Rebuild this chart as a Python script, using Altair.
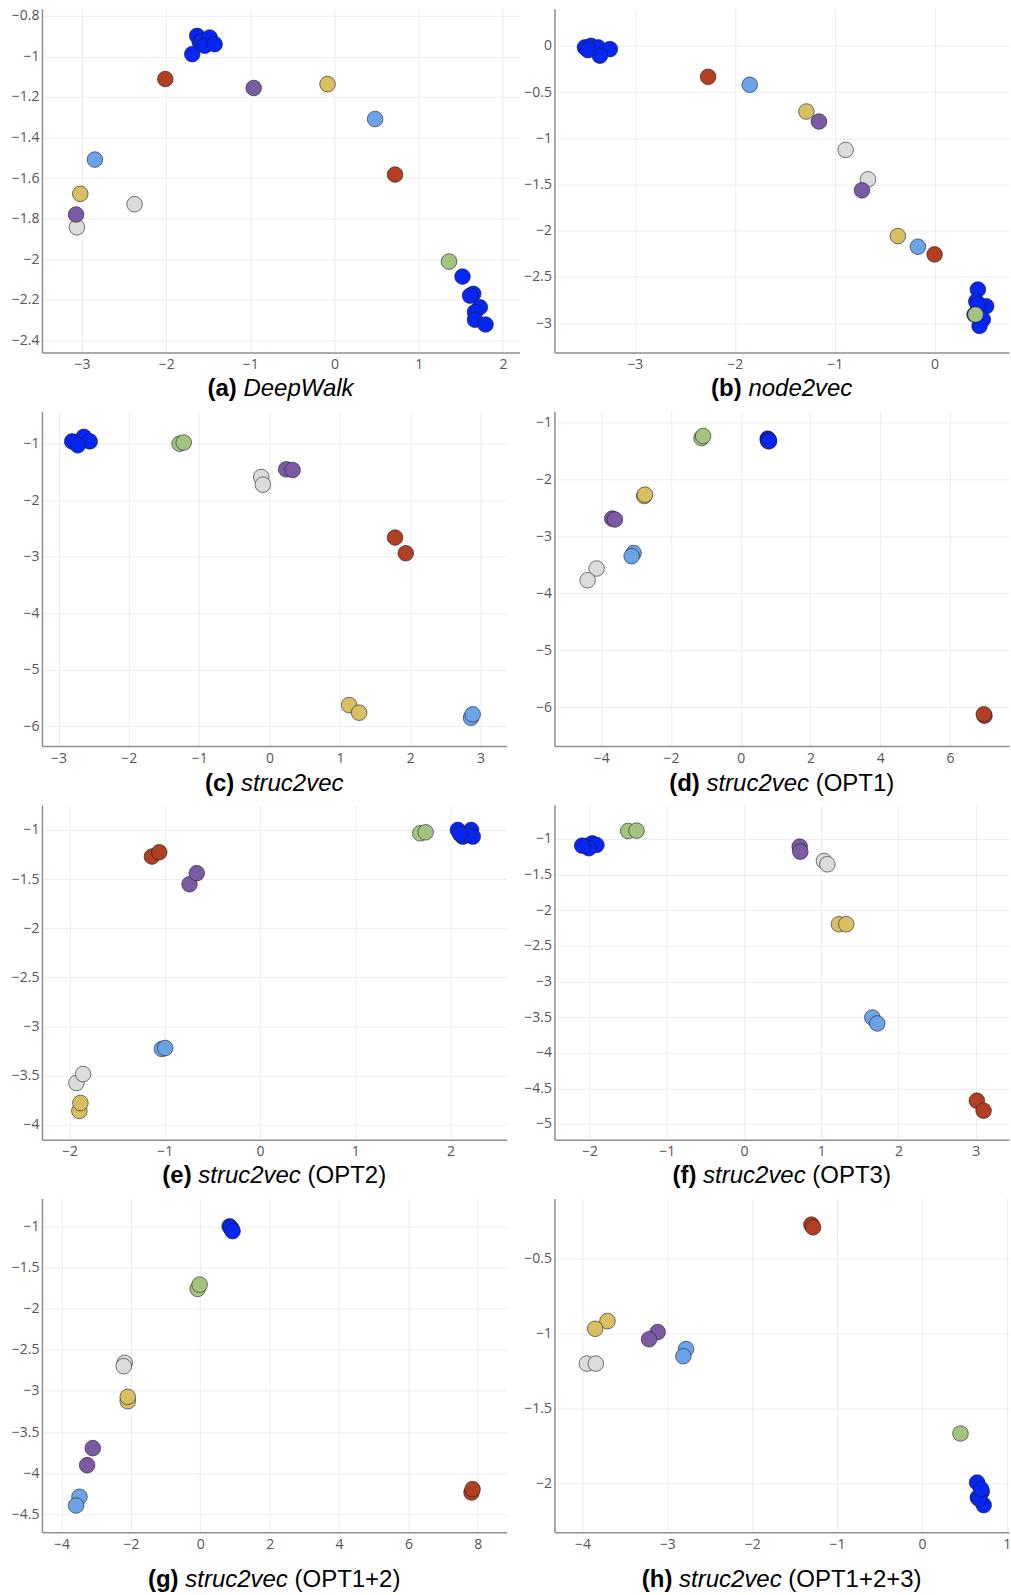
import altair as alt
import pandas as pd

# node roles and their colours
ROLES = ["r1", "r2", "r3", "r4", "r5", "r6", "r7"]
ROLE_COLORS = ["#0626f5", "#a2c47e", "#dadbdd", "#d8bf62", "#7a5ba3", "#6ca2e8", "#b33f22"]

# ---- (a) DeepWalk ----
DEEPWALK_X = [-1.69, -1.632, -1.60, -1.573, -1.483, -1.542, -1.423,
              1.52, 1.648, 1.61, 1.727, 1.668, 1.668, 1.794,
              1.36, -2.375, -3.06, -0.083, -3.02, -0.96, -3.07,
              0.482, -2.846, -2.01, 0.719]
DEEPWALK_Y = [-0.989, -0.899, -0.93, -0.923, -0.907, -0.948, -0.94,
              -2.086, -2.171, -2.18, -2.237, -2.261, -2.299, -2.322,
              -2.012, -1.729, -1.843, -1.137, -1.678, -1.156, -1.78,
              -1.309, -1.509, -1.112, -1.583]
DEEPWALK_ROLE = ["r1"] * 14 + ["r2", "r3", "r3", "r4", "r4", "r5", "r5", "r6", "r6", "r7", "r7"]

# ---- (b) node2vec ----
NODE2VEC_X = [-3.5, -3.44, -3.367, -3.25, -3.35, -3.47,
              0.433, 0.417, 0.517, 0.433, 0.483, 0.45, 0.40,
              0.41, -0.89, -0.667, -1.283, -0.367, -1.157, -0.727,
              -1.85, -0.167, -2.267, 0.0]
NODE2VEC_Y = [-0.018, 0.0, -0.018, -0.036, -0.108, -0.047,
              -2.635, -2.762, -2.816, -2.80, -2.96, -3.03, -2.906,
              -2.906, -1.126, -1.444, -0.711, -2.058, -0.819, -1.563,
              -0.422, -2.173, -0.336, -2.256]
NODE2VEC_ROLE = ["r1"] * 13 + ["r2", "r3", "r3", "r4", "r4", "r5", "r5", "r6", "r6", "r7", "r7"]

# ---- (c) struc2vec ----
S2V_X = [-2.726, -2.64, -2.556, -2.806, -2.726,
         -1.278, -1.22, -0.118, -0.095, 0.237, 0.327,
         1.784, 1.936, 1.131, 1.273, 2.863, 2.887]
S2V_Y = [-0.97, -0.88, -0.96, -0.96, -1.03,
         -1.0, -0.98, -1.59, -1.725, -1.454, -1.466,
         -2.662, -2.939, -5.626, -5.761, -5.85, -5.79]
S2V_ROLE = ["r1"] * 5 + ["r2", "r2", "r3", "r3", "r5", "r5", "r7", "r7", "r4", "r4", "r6", "r6"]

# ---- (d) struc2vec (OPT1) ----
OPT1_X = [-1.127, -1.08, 0.77, 0.80, 0.783, 0.812,
          -2.77, -2.75, -3.687, -3.61, -3.075, -3.13,
          -4.136, -4.394, 6.99, 6.97]
OPT1_Y = [-1.27, -1.234, -1.28, -1.30, -1.32, -1.327,
          -2.287, -2.263, -2.684, -2.70, -3.29, -3.345,
          -3.561, -3.766, -6.146, -6.12]
OPT1_ROLE = ["r2", "r2", "r1", "r1", "r1", "r1", "r4", "r4", "r5", "r5",
             "r6", "r6", "r3", "r3", "r7", "r7"]

# ---- (e) struc2vec (OPT2) ----
OPT2_X = [2.078, 2.218, 2.13, 2.235, 2.183, 2.10,
          1.683, 1.74, -1.135, -1.058, -0.74, -0.664,
          -1.03, -0.995, -1.928, -1.858, -1.897, -1.886]
OPT2_Y = [-1.0, -1.0, -1.068, -1.068, -1.044, -1.04,
          -1.034, -1.024, -1.271, -1.227, -1.553, -1.44,
          -3.23, -3.22, -3.576, -3.485, -3.86, -3.78]
OPT2_ROLE = ["r1"] * 6 + ["r2", "r2", "r7", "r7", "r5", "r5", "r6", "r6", "r3", "r3", "r4", "r4"]

# ---- (f) struc2vec (OPT3) ----
OPT3_X = [-2.039, -1.966, -1.91, -2.01, -2.095,
          -1.5, -1.392, 0.72, 0.728, 1.034, 1.078,
          1.228, 1.323, 1.66, 1.724, 3.013, 3.1]
OPT3_Y = [-1.098, -1.061, -1.084, -1.13, -1.093,
          -0.888, -0.883, -1.107, -1.178, -1.308, -1.355,
          -2.196, -2.196, -3.505, -3.589, -4.673, -4.813]
OPT3_ROLE = ["r1"] * 5 + ["r2", "r2", "r5", "r5", "r3", "r3", "r4", "r4", "r6", "r6", "r7", "r7"]

# ---- (g) struc2vec (OPT1+2) ----
OPT12_X = [0.845, 0.912, 0.88, 0.93,
           -0.077, -0.019, -2.178, -2.207, -2.092, -2.092,
           -3.1, -3.263, -3.484, -3.58, 7.82, 7.85]
OPT12_Y = [-1.0, -1.04, -1.02, -1.06,
           -1.761, -1.709, -2.66, -2.70, -3.126, -3.073,
           -3.696, -3.903, -4.287, -4.393, -4.235, -4.194]
OPT12_ROLE = ["r1"] * 4 + ["r2", "r2", "r3", "r3", "r4", "r4", "r5", "r5", "r6", "r6", "r7", "r7"]

# ---- (h) struc2vec (OPT1+2+3) ----
OPT123_X = [-1.302, -1.282, -3.706, -3.851, -3.114, -3.216,
            -2.78, -2.812, -3.949, -3.843, 0.455,
            0.651, 0.706, 0.659, 0.729, 0.678, 0.698]
OPT123_Y = [-0.274, -0.292, -0.917, -0.968, -0.99, -1.038,
            -1.103, -1.151, -1.2, -1.2, -1.666,
            -1.992, -2.054, -2.092, -2.143, -2.103, -2.036]
OPT123_ROLE = ["r7", "r7", "r4", "r4", "r5", "r5", "r6", "r6", "r3", "r3", "r2"] + ["r1"] * 6

# panel captions
TAGS = ["(a)", "(b)", "(c)", "(d)", "(e)", "(f)", "(g)", "(h)"]
NAMES = ["DeepWalk", "node2vec", "struc2vec", "struc2vec", "struc2vec",
         "struc2vec", "struc2vec", "struc2vec"]
NOTES = ["", "", "", "(OPT1)", "(OPT2)", "(OPT3)", "(OPT1+2)", "(OPT1+2+3)"]


def steps(a, b, s):
    out, v = [], a
    while v >= b - 1e-9:
        out.append(round(v, 3))
        v -= s
    return out


LAYOUT = [
    dict(w=478, h=344, cap=44, xd=[-3.475, 2.197], yd=[-2.460, -0.7655],
         xt=[-3, -2, -1, 0, 1, 2], yt=steps(-0.8, -2.4, 0.2)),
    dict(w=455, h=344, cap=44, xd=[-3.805, 0.745], yd=[-3.316, 0.400],
         xt=[-3, -2, -1, 0], yt=steps(0, -3, 0.5)),
    dict(w=465, h=335, cap=45, xd=[-3.235, 3.368], yd=[-6.351, -0.429],
         xt=[-3, -2, -1, 0, 1, 2, 3], yt=steps(-1, -6, 1)),
    dict(w=455, h=335, cap=45, xd=[-5.344, 7.693], yd=[-6.679, -0.801],
         xt=[-4, -2, 0, 2, 4, 6], yt=steps(-1, -6, 1)),
    dict(w=465, h=335, cap=43, xd=[-2.290, 2.589], yd=[-4.153, -0.746],
         xt=[-2, -1, 0, 1, 2], yt=steps(-1, -4, 0.5)),
    dict(w=455, h=335, cap=43, xd=[-2.454, 3.429], yd=[-5.220, -0.523],
         xt=[-2, -1, 0, 1, 2, 3], yt=steps(-1, -5, 0.5)),
    dict(w=465, h=334, cap=55, xd=[-4.565, 8.828], yd=[-4.718, -0.664],
         xt=[-4, -2, 0, 2, 4, 6, 8], yt=steps(-1, -4.5, 0.5)),
    dict(w=455, h=334, cap=55, xd=[-4.331, 1.027], yd=[-2.324, -0.1005],
         xt=[-4, -3, -2, -1, 0, 1], yt=steps(-0.5, -2, 0.5)),
]

SERIES = [
    (DEEPWALK_X, DEEPWALK_Y, DEEPWALK_ROLE),
    (NODE2VEC_X, NODE2VEC_Y, NODE2VEC_ROLE),
    (S2V_X, S2V_Y, S2V_ROLE),
    (OPT1_X, OPT1_Y, OPT1_ROLE),
    (OPT2_X, OPT2_Y, OPT2_ROLE),
    (OPT3_X, OPT3_Y, OPT3_ROLE),
    (OPT12_X, OPT12_Y, OPT12_ROLE),
    (OPT123_X, OPT123_Y, OPT123_ROLE),
]

# Arial / Liberation Sans advance widths (1/1000 em), used to centre captions
REG_W = {' ': 278, '(': 333, ')': 333, '+': 584, '1': 556, '2': 556, '3': 556,
         'O': 778, 'P': 667, 'T': 611, 'D': 722, 'W': 944, 'a': 556, 'c': 500,
         'd': 556, 'e': 556, 'k': 500, 'l': 222, 'n': 556, 'o': 556, 'p': 556,
         'r': 333, 's': 500, 't': 278, 'u': 556, 'v': 500}
BOLD_W = {'(': 333, ')': 333, 'a': 556, 'b': 611, 'c': 556, 'd': 611,
          'e': 556, 'f': 333, 'g': 611, 'h': 611}
CAP_SIZE = 24
CAP_FONT = "Liberation Sans"

# tick labels with a true minus sign
TICK_LABEL = "replace(format(datum.value, '~g'), '-', '\u2212')"


def text_w(s, table):
    return sum(table.get(ch, 556) for ch in s) * CAP_SIZE / 1000.0


def caption_layers(tag, name, note, w, y):
    space = text_w(" ", REG_W)
    parts = [(tag, "bold", "normal", text_w(tag, BOLD_W)),
             (name, "normal", "italic", text_w(name, REG_W))]
    if note:
        parts.append((note, "normal", "normal", text_w(note, REG_W)))
    total = sum(p[3] for p in parts) + space * (len(parts) - 1)
    x = w / 2 - total / 2
    layers = []
    for txt, weight, style, pw in parts:
        layers.append(
            alt.Chart(pd.DataFrame({"t": [txt]}))
            .mark_text(font=CAP_FONT, fontSize=CAP_SIZE, fontWeight=weight,
                       fontStyle=style, align="left", baseline="alphabetic",
                       color="#000000")
            .encode(text="t:N", x=alt.value(x), y=alt.value(y))
        )
        x += pw + space
    return layers


def panel(i):
    xs, ys, roles = SERIES[i]
    lay = LAYOUT[i]
    df = pd.DataFrame({"x": xs, "y": ys, "role": roles, "k": list(range(len(xs)))})
    pts = alt.Chart(df).mark_circle(
        size=245, opacity=1, stroke="#1c1c28", strokeWidth=1, strokeOpacity=0.6
    ).encode(
        x=alt.X("x:Q",
                scale=alt.Scale(domain=lay["xd"], nice=False, zero=False),
                axis=alt.Axis(values=lay["xt"], labelExpr=TICK_LABEL, title=None,
                              labelPadding=5)),
        y=alt.Y("y:Q",
                scale=alt.Scale(domain=lay["yd"], nice=False, zero=False),
                axis=alt.Axis(values=lay["yt"], labelExpr=TICK_LABEL, title=None,
                              labelPadding=3)),
        color=alt.Color("role:N", scale=alt.Scale(domain=ROLES, range=ROLE_COLORS),
                        legend=None),
        order=alt.Order("k:Q"),
    )
    caps = caption_layers(TAGS[i], NAMES[i], NOTES[i], lay["w"], lay["h"] + lay["cap"])
    return alt.layer(pts, *caps).properties(width=lay["w"], height=lay["h"])


chart = alt.concat(
    *[panel(i) for i in range(8)],
    columns=2,
    spacing={"row": 59, "column": 35},
    bounds="flush",
    align="each",
).properties(
    padding={"left": 11, "top": 8, "right": 0, "bottom": 0},
    background="#ffffff",
).configure_view(
    stroke=None
).configure_axis(
    labelFont="Open Sans",
    labelFontSize=14,
    labelColor="#555555",
    grid=True,
    gridColor="#ececec",
    gridWidth=1,
    domainColor="#8f8f8f",
    domainWidth=1.5,
    ticks=False,
)

chart.save("out.html", embed_options={"renderer": "svg", "actions": False})
